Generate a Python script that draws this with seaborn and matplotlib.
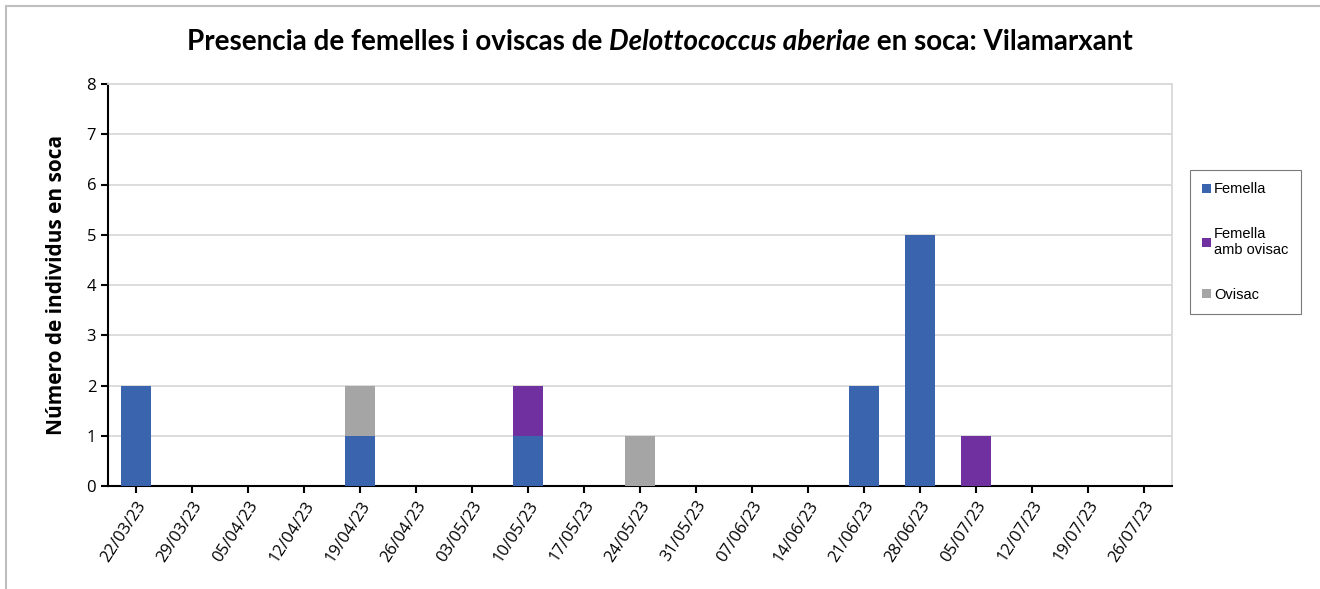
import seaborn as sns
import matplotlib.pyplot as plt
import pandas as pd
from matplotlib.patches import Rectangle

# dates de mostreig
dates = ["22/03/23", "29/03/23", "05/04/23", "12/04/23", "19/04/23", "26/04/23",
         "03/05/23", "10/05/23", "17/05/23", "24/05/23", "31/05/23", "07/06/23",
         "14/06/23", "21/06/23", "28/06/23", "05/07/23", "12/07/23", "19/07/23",
         "26/07/23"]
femella = [2, 0, 0, 0, 1, 0, 0, 1, 0, 0, 0, 0, 0, 2, 5, 0, 0, 0, 0]
femella_ovisac = [0, 0, 0, 0, 0, 0, 0, 1, 0, 0, 0, 0, 0, 0, 0, 1, 0, 0, 0]
ovisac = [0, 0, 0, 0, 1, 0, 0, 0, 0, 1, 0, 0, 0, 0, 0, 0, 0, 0, 0]

df = pd.DataFrame({"data": dates, "Femella": femella,
                   "Femella\namb ovisac": femella_ovisac, "Ovisac": ovisac})
# apilat: cada capa es dibuixa amb la suma acumulada
df["c1"] = df["Femella"]
df["c2"] = df["c1"] + df["Femella\namb ovisac"]
df["c3"] = df["c2"] + df["Ovisac"]

colors = {"Femella": "#3A64AD", "Femella\namb ovisac": "#7030A0", "Ovisac": "#A5A5A5"}

sns.set_style("white")
plt.rcParams['font.family'] = ['Open Sans', 'DejaVu Sans']
plt.rcParams['text.color'] = 'black'
plt.rcParams['axes.labelcolor'] = 'black'
plt.rcParams['xtick.color'] = 'black'
plt.rcParams['ytick.color'] = 'black'

fig = plt.figure(figsize=(13.2, 5.89), dpi=100)
ax = fig.add_axes([108 / 1320, 1 - 486 / 589, (1172 - 108) / 1320, (486 - 84) / 589])

for col, name in [("c3", "Ovisac"), ("c2", "Femella\namb ovisac"), ("c1", "Femella")]:
    sns.barplot(data=df, x="data", y=col, order=dates, color=colors[name],
                width=0.54, ax=ax, zorder=3, saturation=1, label=name, linewidth=0)

ax.set_ylim(0, 8)
ax.set_xlim(-0.5, len(dates) - 0.5)
ax.set_yticks(range(0, 9))
ax.yaxis.grid(True, color="#D9D9D9", linewidth=1.3, zorder=0)
ax.set_axisbelow(True)

for s in ["top", "right"]:
    ax.spines[s].set_color("#D9D9D9")
    ax.spines[s].set_linewidth(1.3)
for s in ["left", "bottom"]:
    ax.spines[s].set_color("black")
    ax.spines[s].set_linewidth(1.5)

ax.tick_params(axis="both", direction="out", length=5, width=1.5, color="black",
               labelcolor="black", labelsize=12, left=True, bottom=True)
ax.set_xticks(range(len(dates)))
ax.set_xticklabels(dates, rotation=57, ha="right", rotation_mode="anchor")
ax.set_xlabel("")
ax.set_ylabel("Número de individus en soca", fontsize=15, fontweight="bold",
              labelpad=14, color="black")

# llegenda en ordre Femella, amb ovisac, Ovisac
h, l = ax.get_legend_handles_labels()
if ax.get_legend() is not None:
    ax.get_legend().remove()
order = ["Femella", "Femella\namb ovisac", "Ovisac"]
hh = [h[l.index(o)] for o in order]
leg = fig.legend(hh, order, loc="upper left", bbox_to_anchor=(1190 / 1320, 1 - 170 / 589),
                 frameon=True, fancybox=False, edgecolor="#595959", borderaxespad=0,
                 handlelength=0.6, handleheight=0.6, handletextpad=0.2,
                 labelspacing=2.1, borderpad=0.85, prop={"family": "Liberation Sans", "size": 10.5})
leg.get_frame().set_linewidth(0.8)

# títol en tres trossos (la part central en cursiva)
parts = [("Presencia de femelles i oviscas de ", "normal"),
         ("Delottococcus aberiae", "italic"),
         (" en soca: Vilamarxant", "normal")]
fig.canvas.draw()
r = fig.canvas.get_renderer()
txts = []
for s, st in parts:
    t = fig.text(0, 1 - 42 / 589, s, ha="left", va="center", fontsize=20,
                 fontweight="bold", style=st, family="Lato", color="black")
    txts.append(t)
widths = [t.get_window_extent(r).width for t in txts]
x0 = (1320 - sum(widths)) / 2
for t, w in zip(txts, widths):
    t.set_x(x0 / 1320)
    x0 += w

# vora de la figura
fig.patches.append(Rectangle((6 / 1320, -0.01), 1.0, 1 - 6 / 589 + 0.01,
                             transform=fig.transFigure, fill=False,
                             edgecolor="#BFBFBF", linewidth=1.5))

fig.savefig("out.png", dpi=100)
